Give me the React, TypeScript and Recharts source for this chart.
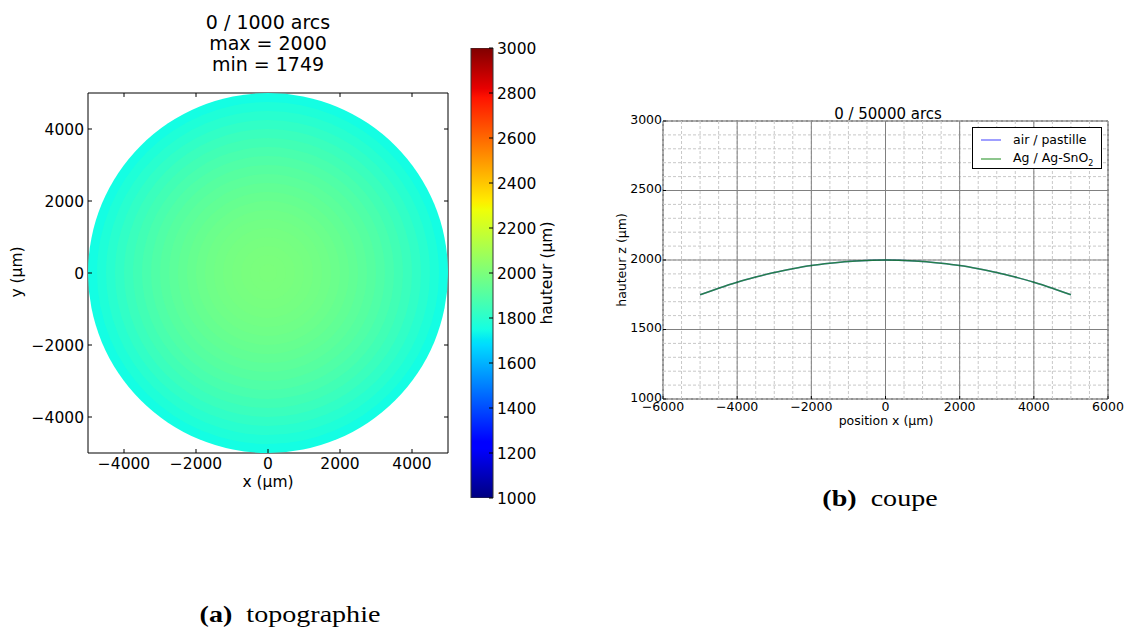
import React from "react";
import {
  ScatterChart,
  Scatter,
  ZAxis,
  Cell,
  BarChart,
  Bar,
  LineChart,
  Line,
  XAxis,
  YAxis,
  ReferenceArea,
  ReferenceLine,
  Legend,
} from "recharts";

const SANS = "'DejaVu Sans', sans-serif";
const SERIF = "'Liberation Serif', serif";

// (a) topographie : disques concentriques, rayon (µm) -> hauteur (µm)
const ringRadii = [5000, 4750, 4500, 4250, 4000, 3750, 3500, 3250, 3000, 2750, 2500, 2250, 2000, 1750, 1500, 1250, 1000, 750, 500, 250];
const ringHeights = [1749, 1774, 1797, 1819, 1840, 1859, 1877, 1894, 1910, 1924, 1937, 1949, 1960, 1969, 1977, 1984, 1990, 1994, 1997, 1999];
const topoTicks = [-4000, -2000, 0, 2000, 4000];
const colorbarTicks = [1000, 1200, 1400, 1600, 1800, 2000, 2200, 2400, 2600, 2800, 3000];
const colorbarRange = [{ name: "hauteur", v: [1000, 3000] }];

// (b) coupe
const coupeX = [-5000, -4500, -4000, -3500, -3000, -2500, -2000, -1500, -1000, -500, 0, 500, 1000, 1500, 2000, 2500, 3000, 3500, 4000, 4500, 5000];
const coupeAir = [1750, 1797, 1840, 1877, 1910, 1937, 1960, 1977, 1990, 1997, 2000, 1997, 1990, 1977, 1960, 1937, 1910, 1877, 1840, 1797, 1750];
const coupeAg = [1750, 1797, 1840, 1877, 1910, 1937, 1960, 1977, 1990, 1997, 2000, 1997, 1990, 1977, 1960, 1937, 1910, 1877, 1840, 1797, 1750];
const coupeXTicks = [-6000, -4000, -2000, 0, 2000, 4000, 6000];
const coupeYTicks = [1000, 1500, 2000, 2500, 3000];

const range = (a: number, b: number, step: number) => {
  const out: number[] = [];
  for (let v = a; v <= b; v += step) out.push(v);
  return out;
};
const minorX = range(-6000, 6000, 500);
const minorY = range(1000, 3000, 100);

// matplotlib "jet"
const JET_R = [[0, 0], [0.35, 0], [0.66, 1], [0.89, 1], [1, 0.5]];
const JET_G = [[0, 0], [0.125, 0], [0.375, 1], [0.64, 1], [0.91, 0], [1, 0]];
const JET_B = [[0, 0.5], [0.11, 1], [0.34, 1], [0.65, 0], [1, 0]];
const JET_STOPS = [0, 0.11, 0.125, 0.34, 0.35, 0.375, 0.64, 0.65, 0.66, 0.89, 0.91, 1];

function chan(pts: number[][], t: number) {
  for (let i = 1; i < pts.length; i++) {
    if (t <= pts[i][0]) {
      const [a, va] = pts[i - 1];
      const [b, vb] = pts[i];
      return va + ((vb - va) * (t - a)) / (b - a);
    }
  }
  return pts[pts.length - 1][1];
}
function jetT(t: number) {
  const c = Math.max(0, Math.min(1, t));
  const to = (v: number) => Math.round(v * 255);
  return `rgb(${to(chan(JET_R, c))},${to(chan(JET_G, c))},${to(chan(JET_B, c))})`;
}
const jet = (h: number) => jetT((h - 1000) / 2000);

const fmt = (v: number) => String(v).replace("-", "\u2212");

// inward ticks, matplotlib style
function makeTick(side: "bottom" | "left" | "right", fontSize: number, len: number, gap: number, dy = "0.36em") {
  return (props: any) => {
    const { x, y, payload } = props;
    const txt = fmt(payload.value);
    const common = { fontFamily: SANS, fontSize, fill: "#000" };
    if (side === "bottom")
      return (
        <g>
          <line x1={x} y1={y} x2={x} y2={y - len} stroke="#000" />
          <text x={x} y={y + gap} dy="0.74em" textAnchor="middle" {...common}>
            {txt}
          </text>
        </g>
      );
    if (side === "left")
      return (
        <g>
          <line x1={x} y1={y} x2={x + len} y2={y} stroke="#000" />
          <text x={x - gap} y={y} dy={dy} textAnchor="end" {...common}>
            {txt}
          </text>
        </g>
      );
    return (
      <g>
        <line x1={x} y1={y} x2={x - len} y2={y} stroke="#000" />
        <text x={x + gap} y={y} dy={dy} textAnchor="start" {...common}>
          {txt}
        </text>
      </g>
    );
  };
}

function Txt({ x, y, size, children, rotate = 0, family = SANS, scaleX = 1 }: any) {
  return (
    <div
      style={{
        position: "absolute",
        left: x,
        top: y,
        transform: `translate(-50%, -50%) rotate(${rotate}deg) scaleX(${scaleX})`,
        whiteSpace: "nowrap",
        fontFamily: family,
        fontSize: size,
        color: "#000",
        lineHeight: 1,
      }}
    >
      {children}
    </div>
  );
}

const rings = ringRadii.map((r, i) => ({ x: 0, y: 0, z: r * r, h: ringHeights[i] }));
const coupeData = coupeX.map((x, i) => ({ x, air: coupeAir[i], ag: coupeAg[i] }));

const legendItems = [
  { key: "air", color: "#0000ff", opacity: 0.5, label: <>air / pastille</> },
  { key: "ag", color: "#008000", opacity: 0.6, label: <>Ag / Ag-SnO<sub style={{ fontSize: 8 }}>2</sub></> },
];

function CoupeLegend() {
  return (
    <div
      style={{
        border: "1px solid #000",
        background: "#fff",
        boxSizing: "border-box",
        width: 130,
        height: 42,
        padding: "2px 0 0 8px",
        fontFamily: SANS,
        fontSize: 12.5,
      }}
    >
      {legendItems.map((it) => (
        <div key={it.key} style={{ display: "flex", alignItems: "center", height: 19 }}>
          <svg width={20} height={4} style={{ marginRight: 12 }}>
            <line x1={0} y1={2} x2={20} y2={2} stroke={it.color} strokeOpacity={it.opacity} strokeWidth={1.5} />
          </svg>
          <span>{it.label}</span>
        </div>
      ))}
    </div>
  );
}

export default function App() {
  return (
    <div style={{ position: "absolute", left: 0, top: 0, width: 1132, height: 628, background: "#fff" }}>
      {/* (a) topographie */}
      <div style={{ position: "absolute", left: 0, top: 0 }}>
        <ScatterChart width={460} height={500} margin={{ top: 93, right: 12, bottom: 0, left: 28 }}>
          <XAxis
            type="number"
            dataKey="x"
            domain={[-5000, 5000]}
            ticks={topoTicks}
            height={47}
            tickSize={0}
            tickMargin={0}
            tick={makeTick("bottom", 15.5, 4, 5)}
            axisLine={false}
            allowDataOverflow
          />
          <YAxis
            type="number"
            dataKey="y"
            domain={[-5000, 5000]}
            ticks={topoTicks}
            width={60}
            tickSize={0}
            tickMargin={0}
            tick={makeTick("left", 15.5, 4, 4)}
            axisLine={false}
            allowDataOverflow
          />
          <ZAxis type="number" dataKey="z" domain={[0, 25000000]} range={[0, Math.PI * 180 * 180]} />
          <Scatter data={rings} shape="circle" isAnimationActive={false}>
            {rings.map((r, i) => (
              <Cell key={i} fill={jet(r.h)} />
            ))}
          </Scatter>
          <ReferenceArea x1={-5000} x2={5000} y1={-5000} y2={5000} fill="none" stroke="#000" strokeWidth={1} ifOverflow="visible" />
          {topoTicks.map((v) => (
            <ReferenceLine key={"tt" + v} segment={[{ x: v, y: 5000 }, { x: v, y: 4890 }]} stroke="#000" ifOverflow="visible" />
          ))}
          {topoTicks.map((v) => (
            <ReferenceLine key={"tr" + v} segment={[{ x: 5000, y: v }, { x: 4890, y: v }]} stroke="#000" ifOverflow="visible" />
          ))}
        </ScatterChart>
      </div>

      {/* colorbar */}
      <div style={{ position: "absolute", left: 460, top: 0 }}>
        <BarChart width={120} height={520} data={colorbarRange} barCategoryGap={0} margin={{ top: 48, right: 27, bottom: 22, left: 11 }}>
          <defs>
            <linearGradient id="jetGrad" x1="0" y1="1" x2="0" y2="0">
              {JET_STOPS.map((t) => (
                <stop key={t} offset={t} stopColor={jetT(t)} />
              ))}
            </linearGradient>
          </defs>
          <XAxis dataKey="name" hide />
          <YAxis
            orientation="right"
            type="number"
            domain={[1000, 3000]}
            ticks={colorbarTicks}
            width={60}
            tickSize={0}
            tickMargin={0}
            axisLine={false}
            tick={makeTick("right", 15.5, 4, 4)}
            allowDataOverflow
          />
          <Bar dataKey="v" fill="url(#jetGrad)" stroke="#333" strokeWidth={1} isAnimationActive={false} />
        </BarChart>
      </div>

      {/* (b) coupe */}
      <div style={{ position: "absolute", left: 600, top: 90 }}>
        <LineChart width={532} height={350} data={coupeData} margin={{ top: 31, right: 24, bottom: 11, left: 23 }}>
          <XAxis
            type="number"
            dataKey="x"
            domain={[-6000, 6000]}
            ticks={coupeXTicks}
            height={30}
            tickSize={0}
            tickMargin={0}
            tick={makeTick("bottom", 12.5, 3, 3)}
            axisLine={false}
          />
          <YAxis
            type="number"
            domain={[1000, 3000]}
            ticks={coupeYTicks}
            width={40}
            tickSize={0}
            tickMargin={0}
            tick={makeTick("left", 12.5, 3, 1, "0.2em")}
            axisLine={false}
          />
          {minorX.map((v) => (
            <ReferenceLine key={"mx" + v} x={v} stroke="#c8c8c8" strokeDasharray="3 2" />
          ))}
          {minorY.map((v) => (
            <ReferenceLine key={"my" + v} y={v} stroke="#c8c8c8" strokeDasharray="3 2" />
          ))}
          {coupeXTicks.slice(1, -1).map((v) => (
            <ReferenceLine key={"Mx" + v} x={v} stroke="#808080" />
          ))}
          {coupeYTicks.slice(1, -1).map((v) => (
            <ReferenceLine key={"My" + v} y={v} stroke="#808080" />
          ))}
          <ReferenceArea x1={-6000} x2={6000} y1={1000} y2={3000} fill="none" stroke="#222" strokeWidth={1} ifOverflow="visible" />
          <Line type="monotone" dataKey="air" stroke="#0000ff" strokeOpacity={0.5} strokeWidth={1.5} dot={false} isAnimationActive={false} />
          <Line type="monotone" dataKey="ag" stroke="#008000" strokeOpacity={0.7} strokeWidth={1.5} dot={false} isAnimationActive={false} />
          <Legend
            layout="vertical"
            align="center"
            verticalAlign="middle"
            content={() => <CoupeLegend />}
            wrapperStyle={{ left: 372, top: 37, width: 130, height: 42 }}
          />
        </LineChart>
      </div>

      {/* titres et libellés */}
      <Txt x={268} y={22} size={19}>0 / 1000 arcs</Txt>
      <Txt x={268} y={43} size={19}>max = 2000</Txt>
      <Txt x={268} y={64} size={19}>min = 1749</Txt>
      <Txt x={268} y={483} size={15.5}>x (µm)</Txt>
      <Txt x={18} y={272} size={15.5} rotate={-90}>y (µm)</Txt>
      <Txt x={548} y={273} size={15.5} rotate={-90}>hauteur (µm)</Txt>

      <Txt x={888} y={114} size={15}>0 / 50000 arcs</Txt>
      <Txt x={886} y={421} size={12.5}>position x (µm)</Txt>
      <Txt x={622} y={260} size={12.5} rotate={-90}>hauteur z (µm)</Txt>

      <Txt x={880} y={498} size={23} family={SERIF} scaleX={1.22}>
        <b>(b)</b>&nbsp; coupe
      </Txt>
      <Txt x={290} y={614} size={23} family={SERIF} scaleX={1.22}>
        <b>(a)</b>&nbsp; topographie
      </Txt>
    </div>
  );
}
